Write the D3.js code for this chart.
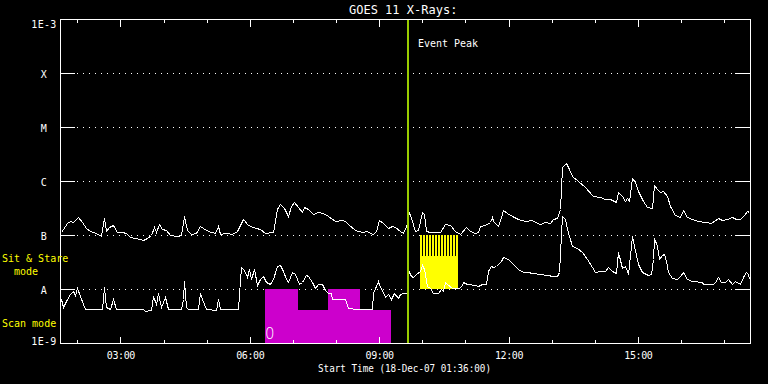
<!DOCTYPE html>
<html>
<head>
<meta charset="utf-8">
<script src="https://cdn.jsdelivr.net/npm/d3@7/dist/d3.min.js"></script>
<style>
    body { margin: 0; background: #000; }
    svg { display: block; background: #000; }
    text { font-family: "DejaVu Sans Mono", monospace; fill: #fff; }
</style>
</head>
<body>
<div id="chart"></div>
<script>
var day = "2007-12-18 ";

// GOES 11 long channel (1-8 A), W/m^2
var longTimes = ["01:37","01:40","01:46","01:50","01:54","02:01","02:07","02:12","02:18","02:26","02:33","02:37","02:40","02:44","02:50","02:55","03:02","03:08","03:13","03:20","03:27","03:31","03:37","03:43","03:47","03:50","03:54","03:58","04:04","04:09","04:19","04:25","04:28","04:32","04:38","04:45","04:51","04:55","05:02","05:12","05:16","05:18","05:27","05:35","05:42","05:46","05:51","05:57","06:05","06:09","06:14","06:21","06:32","06:35","06:38","06:42","06:48","06:53","06:57","07:01","07:07","07:13","07:15","07:21","07:28","07:35","07:42","07:49","07:59","08:08","08:13","08:17","08:26","08:36","08:43","08:47","08:51","08:56","09:00","09:05","09:12","09:18","09:22","09:29","09:33","09:39","09:41","09:46","09:50","09:54","10:00","10:02","10:05","10:11","10:24","10:31","10:38","10:45","10:52","11:01","11:06","11:13","11:18","11:20","11:27","11:34","11:37","11:39","11:45","11:49","11:52","11:58","12:05","12:13","12:23","12:33","12:37","12:44","12:51","12:58","13:02","13:07","13:11","13:14","13:20","13:24","13:28","13:37","13:46","13:57","14:07","14:14","14:21","14:29","14:33","14:38","14:42","14:45","14:47","14:52","14:56","15:00","15:07","15:13","15:20","15:22","15:27","15:31","15:35","15:40","15:45","15:52","15:58","16:03","16:08","16:15","16:23","16:33","16:42","16:52","16:57","17:04","17:11","17:16","17:22","17:28","17:32","17:34"];
var longFlux = [1.12e-7,1.29e-7,1.67e-7,1.82e-7,1.75e-7,2.15e-7,1.75e-7,1.35e-7,1.19e-7,1.09e-7,9.6e-8,2.06e-7,1.19e-7,1.41e-7,1.53e-7,1.14e-7,1.14e-7,1.09e-7,9.2e-8,8.8e-8,8.4e-8,8.1e-8,8.8e-8,1.0e-7,1.41e-7,1.14e-7,1.6e-7,1.29e-7,1.24e-7,1.0e-7,9.6e-8,1.0e-7,2.25e-7,1.24e-7,1.04e-7,1.09e-7,1.47e-7,1.35e-7,1.19e-7,1.09e-7,1.47e-7,1.04e-7,1.09e-7,1.04e-7,1.19e-7,1.53e-7,1.98e-7,1.53e-7,1.41e-7,1.35e-7,1.29e-7,1.09e-7,1.14e-7,1.82e-7,3.03e-7,3.75e-7,3.16e-7,2.25e-7,3.45e-7,4.07e-7,3.3e-7,2.67e-7,3.3e-7,3.03e-7,2.45e-7,2.67e-7,2.56e-7,2.25e-7,1.82e-7,1.9e-7,1.82e-7,1.6e-7,1.24e-7,1.14e-7,1.19e-7,1.09e-7,1.04e-7,1.19e-7,1.9e-7,1.67e-7,1.35e-7,1.47e-7,1.41e-7,1.19e-7,1.09e-7,1.6e-7,2.67e-7,1.82e-7,1.19e-7,1.24e-7,2.67e-7,2.45e-7,1.19e-7,1.12e-7,1.12e-7,1.6e-7,1.53e-7,1.19e-7,1.04e-7,1.41e-7,1.19e-7,1.09e-7,1.14e-7,1.47e-7,1.53e-7,1.75e-7,2.15e-7,1.82e-7,1.47e-7,2.15e-7,2.9e-7,2.56e-7,2.25e-7,1.98e-7,1.82e-7,1.9e-7,1.75e-7,1.6e-7,1.75e-7,1.67e-7,1.98e-7,2.06e-7,3.03e-7,1.82e-6,2.15e-6,1.67e-6,1.24e-6,1.0e-6,7.74e-7,5.27e-7,5.05e-7,4.64e-7,4.64e-7,4.07e-7,6.25e-7,5.27e-7,4.26e-7,4.85e-7,4.26e-7,1.14e-6,9.6e-7,6.52e-7,4.26e-7,3.3e-7,3.16e-7,8.42e-7,7.1e-7,6.25e-7,6.52e-7,5.27e-7,3.45e-7,2.35e-7,2.15e-7,2.9e-7,2.15e-7,1.98e-7,1.82e-7,1.75e-7,1.67e-7,2.06e-7,1.9e-7,1.98e-7,2.15e-7,1.98e-7,1.98e-7,2.35e-7,2.78e-7,2.67e-7];

// GOES 11 short channel (0.5-4 A), W/m^2
var shortTimes = ["01:37","01:40","01:44","01:50","01:54","01:57","02:00","02:04","02:11","02:34","02:37","02:40","02:46","02:50","02:54","03:31","03:34","03:43","03:45","03:50","03:52","03:56","04:02","04:06","04:25","04:27","04:28","04:31","04:34","04:48","04:51","04:53","04:59","05:13","05:16","05:18","05:44","05:45","05:48","05:52","05:56","05:59","06:02","06:06","06:10","06:14","06:18","06:22","06:28","06:32","06:38","06:42","06:46","06:50","06:53","06:59","07:03","07:08","07:13","07:18","07:21","07:27","07:31","07:35","07:41","07:45","07:49","07:53","07:55","08:13","08:17","08:29","08:50","08:52","08:58","09:00","09:04","09:08","09:12","09:16","09:20","09:26","09:29","09:33","09:39","09:40","09:44","09:47","09:51","09:57","10:00","10:02","10:06","10:11","10:15","10:22","10:26","10:29","10:31","10:35","10:41","10:50","10:54","10:56","11:02","11:13","11:17","11:23","11:28","11:31","11:35","11:38","11:42","11:45","11:49","11:52","11:59","12:06","12:13","12:20","12:27","12:33","12:44","12:54","13:02","13:07","13:10","13:14","13:18","13:22","13:28","13:35","13:42","13:49","13:56","14:00","14:07","14:14","14:18","14:24","14:29","14:33","14:38","14:42","14:45","14:46","14:52","14:55","15:00","15:06","15:14","15:18","15:21","15:23","15:27","15:29","15:33","15:36","15:39","15:42","15:48","15:55","15:59","16:03","16:08","16:15","16:29","16:31","16:44","16:47","16:52","16:56","17:01","17:05","17:11","17:15","17:22","17:26","17:31","17:33","17:34"];
var shortFlux = [6.5e-9,4.6e-9,6.0e-9,8.0e-9,9.2e-9,7.7e-9,1.05e-8,7.4e-9,4.3e-9,4.3e-9,1.09e-8,4.6e-9,4.3e-9,6.5e-9,4.3e-9,4.3e-9,3.9e-9,4.1e-9,7.4e-9,5.3e-9,8.4e-9,4.6e-9,7.1e-9,4.3e-9,4.3e-9,6.5e-9,1.41e-8,4.6e-9,4.3e-9,4.3e-9,8.4e-9,6.5e-9,4.3e-9,4.1e-9,6.5e-9,4.3e-9,4.3e-9,8.0e-9,2.56e-8,2.25e-8,1.67e-8,2.35e-8,1.53e-8,2.35e-8,1.19e-8,1.53e-8,1.75e-8,1.35e-8,1.24e-8,1.53e-8,2.67e-8,2.78e-8,2.15e-8,1.53e-8,1.35e-8,2.06e-8,1.9e-8,1.24e-8,1.35e-8,1.82e-8,1.75e-8,1.35e-8,1.05e-8,1.24e-8,1.24e-8,9.6e-9,8.4e-9,8.4e-9,6.5e-9,6.5e-9,4.5e-9,4.3e-9,4.3e-9,8.4e-9,1.41e-8,1.19e-8,9.6e-9,7.1e-9,8.0e-9,6.5e-9,8.4e-9,6.8e-9,8.0e-9,8.4e-9,8.4e-9,2.25e-8,1.75e-8,1.67e-8,1.9e-8,2.15e-8,2.78e-8,2.35e-8,1.14e-8,1.05e-8,8.4e-9,8.4e-9,1.0e-8,9.2e-9,1.35e-8,1.24e-8,1.05e-8,1.05e-8,1.09e-8,1.35e-8,1.24e-8,1.19e-8,1.14e-8,1.24e-8,1.24e-8,2.15e-8,2.67e-8,2.56e-8,2.67e-8,2.9e-8,3.3e-8,3.9e-8,3.6e-8,2.9e-8,2.35e-8,2.06e-8,2.06e-8,1.98e-8,1.9e-8,1.82e-8,1.75e-8,1.75e-8,2.06e-8,2.25e-7,1.98e-7,1.29e-7,6.3e-8,5.7e-8,4.85e-8,3.6e-8,2.56e-8,2.06e-8,2.15e-8,2.15e-8,2.56e-8,2.15e-8,1.98e-8,4.85e-8,2.45e-8,2.67e-8,2.15e-8,1.9e-8,9.6e-8,6.3e-8,2.9e-8,2.06e-8,1.82e-8,1.9e-8,3.6e-8,8.8e-8,6.3e-8,3.6e-8,4.26e-8,4.45e-8,3.3e-8,2.06e-8,1.6e-8,1.53e-8,1.75e-8,2.06e-8,1.53e-8,1.41e-8,1.35e-8,1.24e-8,1.24e-8,1.35e-8,1.67e-8,1.35e-8,1.35e-8,1.53e-8,1.24e-8,1.41e-8,1.24e-8,1.67e-8,2.06e-8,1.9e-8,1.53e-8];

// scan mode blocks
var scanStart = ["06:21","07:07","07:49","08:33"];
var scanEnd = ["07:07","07:49","08:33","09:16"];
var scanTop = [1e-8, 4.1e-9, 1e-8, 4.1e-9];

// sit & stare block and its pointings
var stareStart = "09:57", stareEnd = "10:50";
var stareTimes = ["09:59:42","10:03:48","10:08:00","10:12:12","10:16:18","10:20:30","10:24:42","10:28:48","10:33:00","10:37:12","10:41:24","10:45:36"];

var peakTime = "09:40";
var levels = [1e-9, 1e-8, 1e-7, 1e-6, 1e-5, 1e-4, 1e-3];
var levelNames = ["1E-9", "A", "B", "C", "M", "X", "1E-3"];

var width = 768, height = 384;
var plotL = 60, plotR = 750, plotT = 19, plotB = 343;

var parseHM = d3.timeParse("%Y-%m-%d %H:%M");
var parseHMS = d3.timeParse("%Y-%m-%d %H:%M:%S");
function t(s) { return s.length > 5 ? parseHMS(day + s) : parseHM(day + s); }

var x = d3.scaleTime().domain([t("01:36"), t("17:36")]).range([plotL, plotR]);
var y = d3.scaleLog().domain([1e-9, 1e-3]).range([plotB, plotT]);

var svg = d3.select("#chart").append("svg")
    .attr("width", width)
    .attr("height", height);

// level guides: short solid piece at each side, dots between
var inner = levels.slice(1, -1);
var guides = svg.append("g").attr("shape-rendering", "crispEdges").attr("stroke", "#fff");
inner.forEach(function (v) {
    var yy = Math.round(y(v)) + 0.5;
    guides.append("line").attr("x1", plotL).attr("x2", plotL + 15).attr("y1", yy).attr("y2", yy);
    guides.append("line").attr("x1", plotR - 15).attr("x2", plotR).attr("y1", yy).attr("y2", yy);
    guides.append("line").attr("x1", plotL + 17).attr("x2", plotR - 16).attr("y1", yy).attr("y2", yy)
        .attr("stroke-dasharray", "1,5");
});

// scan mode
svg.append("g").selectAll("rect")
    .data(scanStart)
    .enter().append("rect")
    .attr("x", function (d) { return x(t(d)); })
    .attr("width", function (d, i) { return x(t(scanEnd[i])) - x(t(d)); })
    .attr("y", function (d, i) { return y(scanTop[i]); })
    .attr("height", function (d, i) { return y(1e-9) - y(scanTop[i]); })
    .attr("fill", "#cc00cc")
    .attr("shape-rendering", "crispEdges");

svg.append("text")
    .attr("x", x(t(scanStart[0])) + 5)
    .attr("y", 338.5)
    .attr("text-anchor", "middle")
    .style("font-size", "15px")
    .style("font-family", "DejaVu Sans")
    .style("font-weight", "200")
    .text("0");

// sit & stare
svg.append("rect")
    .attr("x", x(t(stareStart)))
    .attr("width", x(t(stareEnd)) - x(t(stareStart)))
    .attr("y", y(1e-7))
    .attr("height", y(1e-8) - y(1e-7))
    .attr("fill", "#ffff00")
    .attr("shape-rendering", "crispEdges");

svg.append("g").selectAll("line")
    .data(stareTimes)
    .enter().append("line")
    .attr("x1", function (d) { return Math.round(x(t(d))) + 0.5; })
    .attr("x2", function (d) { return Math.round(x(t(d))) + 0.5; })
    .attr("y1", y(1e-7))
    .attr("y2", y(4.1e-8))
    .attr("stroke", "#000")
    .attr("shape-rendering", "crispEdges");

// flux curves
var line = d3.line()
    .x(function (d) { return Math.round(x(d.t)) + 0.5; })
    .y(function (d) { return Math.round(y(d.v)) + 0.5; });

function series(times, vals) {
    return times.map(function (s, i) { return { t: t(s), v: vals[i] }; });
}

[series(longTimes, longFlux), series(shortTimes, shortFlux)].forEach(function (data) {
    svg.append("path")
        .datum(data)
        .attr("d", line)
        .attr("fill", "none")
        .attr("stroke", "#fff")
        .attr("stroke-width", 1)
        .attr("shape-rendering", "crispEdges");
});

// event peak
svg.append("line")
    .attr("x1", x(t(peakTime))).attr("x2", x(t(peakTime)))
    .attr("y1", plotT).attr("y2", plotB)
    .attr("stroke", "#99cc00")
    .attr("stroke-width", 2)
    .attr("shape-rendering", "crispEdges");

svg.append("text")
    .attr("x", x(t(peakTime)) + 10)
    .attr("y", 47)
    .style("font-size", "10px")
    .text("Event Peak");

// frame
svg.append("rect")
    .attr("x", plotL + 0.5).attr("y", plotT + 0.5)
    .attr("width", plotR - plotL).attr("height", plotB - plotT)
    .attr("fill", "none")
    .attr("stroke", "#fff")
    .attr("shape-rendering", "crispEdges");

// time ticks, hourly minor and 3-hourly major
function timeAxis(axis, pos, size, labels) {
    var g = svg.append("g")
        .attr("transform", "translate(0," + pos + ")")
        .attr("shape-rendering", "crispEdges")
        .call(axis.tickSize(size).tickFormat(labels ? d3.timeFormat("%H:%M") : ""));
    g.select(".domain").remove();
    g.selectAll("line").attr("stroke", "#fff");
    return g;
}
timeAxis(d3.axisBottom(x).ticks(d3.timeHour.every(1)), plotB + 0.5, -3.5, false);
timeAxis(d3.axisTop(x).ticks(d3.timeHour.every(1)), plotT + 0.5, -3.5, false);
timeAxis(d3.axisTop(x).ticks(d3.timeHour.every(3)), plotT + 0.5, -7, false);
var xg = timeAxis(d3.axisBottom(x).ticks(d3.timeHour.every(3)), plotB + 0.5, -7, true);
xg.selectAll("text")
    .attr("y", 15.5)
    .attr("dy", null)
    .attr("fill", "#fff")
    .style("font-size", "10px")
    .style("letter-spacing", "-0.4px")
    .style("font-family", "DejaVu Sans Mono");

// level labels
var yg = svg.append("g")
    .attr("transform", "translate(" + plotL + ",0)")
    .call(d3.axisLeft(y).tickValues(levels).tickSize(0).tickPadding(16)
        .tickFormat(function (d, i) { return levelNames[i]; }));
yg.select(".domain").remove();
yg.selectAll("text")
    .attr("text-anchor", "middle")
    .attr("dy", function (d, i) { return i === 0 ? "1" : (i === levels.length - 1 ? "8" : "4"); })
    .attr("fill", "#fff")
    .style("font-size", "10px")
    .style("letter-spacing", "0.3px")
    .style("font-family", "DejaVu Sans Mono");

// mode labels
svg.append("text").attr("x", 2).attr("y", 262).style("font-size", "10px").style("fill", "#ffff00").text("Sit & Stare");
svg.append("text").attr("x", 14).attr("y", 275).style("font-size", "10px").style("fill", "#ffff00").text("mode");
svg.append("text").attr("x", 2).attr("y", 327).style("font-size", "10px").style("fill", "#ffff00").text("Scan mode");

// titles
svg.append("text")
    .attr("x", 349).attr("y", 14)
    .style("font-size", "12px")
    .text("GOES 11 X-Rays:");
svg.append("text")
    .attr("x", 318).attr("y", 372)
    .attr("textLength", 173)
    .attr("lengthAdjust", "spacingAndGlyphs")
    .style("font-size", "10px")
    .text("Start Time (18-Dec-07 01:36:00)");
</script>
</body>
</html>
